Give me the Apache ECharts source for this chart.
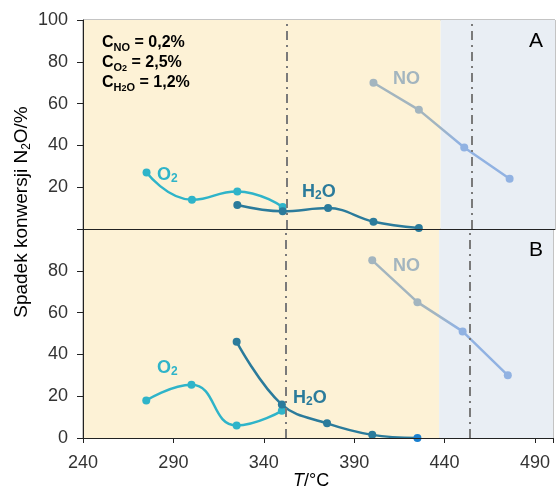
<!DOCTYPE html>
<html>
<head>
<meta charset="utf-8">
<script src="https://cdn.jsdelivr.net/npm/echarts@6/dist/echarts.min.js"></script>
<style>html,body{margin:0;padding:0;background:#fff}#main{width:556px;height:490px}</style>
</head>
<body>
<div id="main"></div>
<script>
// temperatures (°C)
const tO2 = [275, 300, 325, 350];
const tH2O = [325, 350, 375, 400, 425];
const tNO = [400, 425, 450, 475];

// panel A: drop of N2O conversion (%)
const o2A = [27, 14, 18, 10.5];
const h2oA = [11.5, 8.5, 10, 3.5, 0.5];
const noA = [70, 57, 39, 24];

// panel B
const o2B = [18, 25.5, 6, 13];
const h2oB = [46, 16, 7, 1.5, 0];
const noB = [85, 65, 51, 30];

const xTicks = [240, 290, 340, 390, 440, 490];
const yTicksA = [20, 40, 60, 80, 100];
const yTicksB = [0, 20, 40, 60, 80];
const regionBreak = 437;
const refLines = [352, 454];

const cO2 = '#2fb4c9', cH2O = '#2b7b9b', cNOgrey = '#a3b5bf', cNOblue = '#91b2e2';
const font = 'Liberation Sans, Arial, sans-serif';

const pairs = (xs, ys) => xs.map((x, i) => [x, ys[i]]);

const myChart = echarts.init(document.getElementById('main'));

function xAxis(i, labels) {
    return {
        type: 'value', gridIndex: i, min: 240, max: 500, interval: 50, z: 6,
        axisLine: { show: true, lineStyle: { color: '#222', width: 1 } },
        axisTick: { show: labels, length: 5, lineStyle: { color: '#222' } },
        splitLine: { show: false },
        axisLabel: {
            show: labels, margin: 16, fontSize: 18, fontFamily: font, color: '#333',
            formatter: v => xTicks.includes(v) ? String(v) : ''
        }
    };
}
function yAxis(i, ticks) {
    return {
        type: 'value', gridIndex: i, min: 0, max: 100, interval: 20, z: 6,
        axisLine: { show: true, lineStyle: { color: '#222', width: 1 } },
        axisTick: { show: true, length: 6, lineStyle: { color: '#222' } },
        splitLine: { show: false },
        axisLabel: {
            margin: 15, fontSize: 18, fontFamily: font, color: '#333',
            formatter: v => ticks.includes(v) ? String(v) : ''
        }
    };
}

function panelSeries(i, o2, h2o, no, lastH2OColor) {
    const noGradient = new echarts.graphic.LinearGradient(0, 0, 1, 0, [
        { offset: 0, color: cNOgrey }, { offset: 0.45, color: cNOgrey },
        { offset: 0.62, color: cNOblue }, { offset: 1, color: cNOblue }
    ]);
    return [
        {
            type: 'line', xAxisIndex: i, yAxisIndex: i, data: [], z: 1, silent: true,
            markArea: {
                silent: true,
                data: [
                    [{ xAxis: 240, itemStyle: { color: '#fdf2d6' } }, { xAxis: regionBreak }],
                    [{ xAxis: regionBreak, itemStyle: { color: '#e9eef4' } }, { xAxis: 500 }]
                ]
            }
        },
        {
            type: 'line', xAxisIndex: i, yAxisIndex: i, data: [], z: 2, silent: true,
            markLine: {
                silent: true, symbol: 'none', label: { show: false },
                lineStyle: { color: '#7a7a7a', width: 2, type: [9, 5, 2, 5] },
                data: refLines.map(x => ({ xAxis: x }))
            }
        },
        {
            type: 'line', xAxisIndex: i, yAxisIndex: i, z: 3, smooth: 0.5,
            data: pairs(tO2, o2), symbol: 'circle', symbolSize: 8,
            lineStyle: { color: cO2, width: 2.5 }, itemStyle: { color: cO2 }
        },
        {
            type: 'line', xAxisIndex: i, yAxisIndex: i, z: 4, smooth: 0.4,
            data: pairs(tH2O, h2o), symbol: 'circle', symbolSize: 8,
            lineStyle: { color: cH2O, width: 2.5 },
            itemStyle: { color: p => (lastH2OColor && p.dataIndex === tH2O.length - 1) ? lastH2OColor : cH2O }
        },
        {
            type: 'line', xAxisIndex: i, yAxisIndex: i, z: 3,
            data: pairs(tNO, no), symbol: 'circle', symbolSize: 8,
            lineStyle: { color: noGradient, width: 2.5 },
            itemStyle: { color: p => p.value[0] > regionBreak ? cNOblue : cNOgrey }
        }
    ];
}

const big = { fontSize: 18, fontWeight: 'bold', fontFamily: font, lineHeight: 20 };
const sub = { fontSize: 12, fontWeight: 'bold', fontFamily: font, verticalAlign: 'bottom', lineHeight: 14 };
function label(x, y, txt, color) {
    return {
        type: 'text', left: x, top: y, z: 10,
        style: {
            text: txt, fill: color,
            rich: { b: Object.assign({}, big, { color }), s: Object.assign({}, sub, { color }) }
        }
    };
}

const boxRich = {
    b: { fontSize: 16, fontWeight: 'bold', fontFamily: font, color: '#000', lineHeight: 20 },
    s: { fontSize: 11, fontWeight: 'bold', fontFamily: font, color: '#000', verticalAlign: 'bottom', lineHeight: 14 },
    ss: { fontSize: 9, fontWeight: 'bold', fontFamily: font, color: '#000', verticalAlign: 'bottom', lineHeight: 11 }
};

myChart.setOption({
    animation: false,
    grid: [
        { left: 83, right: 1, top: 20, height: 209, show: true, borderColor: '#888', borderWidth: 1, backgroundColor: 'transparent' },
        { left: 83, right: 1, top: 229, bottom: 52, show: true, borderColor: '#888', borderWidth: 1, backgroundColor: 'transparent' }
    ],
    xAxis: [xAxis(0, false), xAxis(1, true)],
    yAxis: [yAxis(0, yTicksA), yAxis(1, yTicksB)],
    series: panelSeries(0, o2A, h2oA, noA, null).concat(panelSeries(1, o2B, h2oB, noB, '#1a80d0')),
    graphic: [
        {
            type: 'text', left: 102, top: 35, z: 10,
            style: {
                text: '{b|C}{s|NO}{b| = 0,2%}\n{b|C}{s|O}{ss|2}{b| = 2,5%}\n{b|C}{s|H}{ss|2}{s|O}{b| = 1,2%}',
                rich: boxRich
            }
        },
        label(157, 166, '{b|O}{s|2}', cO2),
        label(302, 183, '{b|H}{s|2}{b|O}', cH2O),
        label(393, 70, '{b|NO}', cNOgrey),
        label(157, 359, '{b|O}{s|2}', cO2),
        label(293, 389, '{b|H}{s|2}{b|O}', cH2O),
        label(393, 257, '{b|NO}', cNOgrey),
        { type: 'text', left: 529, top: 31, z: 10, style: { text: 'A', fontSize: 21, fontFamily: font, fill: '#000' } },
        { type: 'text', left: 529, top: 240, z: 10, style: { text: 'B', fontSize: 21, fontFamily: font, fill: '#000' } },
        {
            type: 'text', x: 22, y: 212, rotation: Math.PI / 2, z: 10,
            style: {
                text: '{n|Spadek konwersji N}{s|2}{n|O/%}', align: 'center', verticalAlign: 'middle',
                rich: {
                    n: { fontSize: 19, fontFamily: font, color: '#111', lineHeight: 22 },
                    s: { fontSize: 12, fontFamily: font, color: '#111', verticalAlign: 'bottom', lineHeight: 16 }
                }
            }
        },
        {
            type: 'text', left: 293, top: 472, z: 10,
            style: {
                text: '{i|T}{n|/°C}',
                rich: {
                    i: { fontSize: 18, fontFamily: font, fontStyle: 'italic', color: '#111' },
                    n: { fontSize: 18, fontFamily: font, color: '#111' }
                }
            }
        }
    ]
});

window.addEventListener('resize', () => myChart.resize());
</script>
</body>
</html>
